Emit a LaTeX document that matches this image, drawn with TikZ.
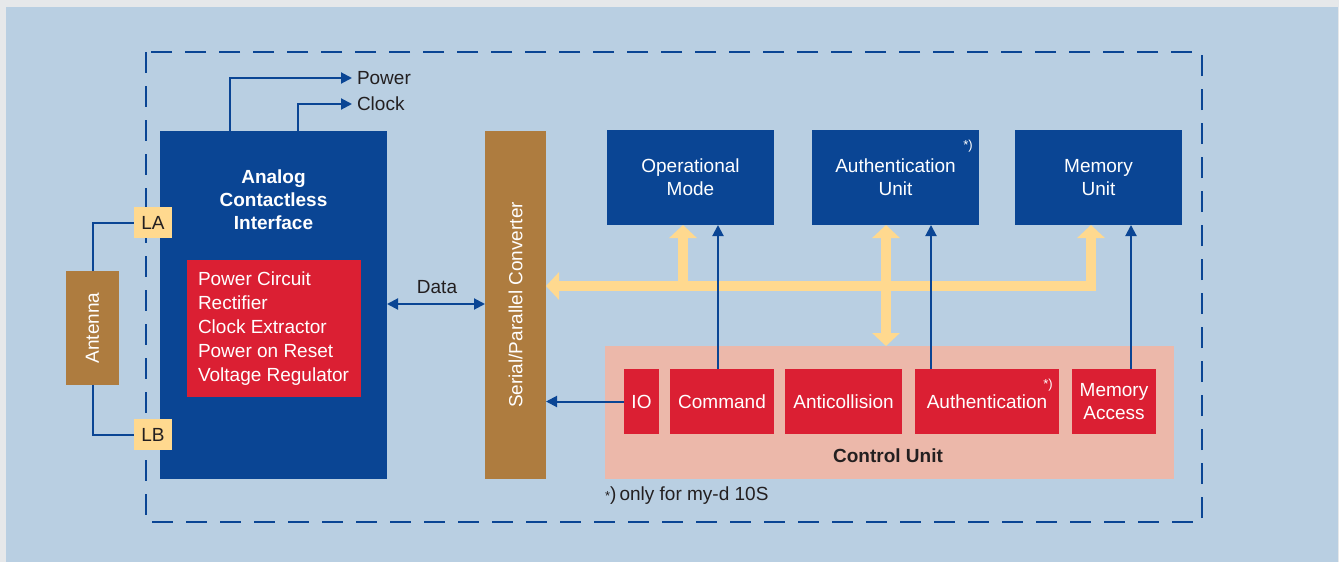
\documentclass[tikz,border=0pt]{standalone}
\usepackage{fontspec}
\setmainfont{Liberation Sans}
\usetikzlibrary{arrows.meta}
\definecolor{greyb}{HTML}{E6E8EA}
\definecolor{bgblue}{HTML}{B9CFE2}
\definecolor{dblue}{HTML}{0A4594}
\definecolor{brown}{HTML}{AE7C3F}
\definecolor{yel}{HTML}{FFD98F}
\definecolor{redb}{HTML}{DB1F33}
\definecolor{pinkb}{HTML}{ECB8AA}
\definecolor{darktext}{HTML}{231F20}
\newcommand{\fsz}{\fontsize{19}{23}\selectfont}
\newcommand{\smallstar}{\fontsize{13}{13}\selectfont}
\begin{document}
\begin{tikzpicture}[x=1pt,y=-1pt,
  every node/.style={inner sep=0pt, outer sep=0pt, font=\fsz, text=darktext},
  box/.style={draw=none, anchor=north west, align=center},
  wh/.style 2 args={minimum width=#1, minimum height=#2},
  bluebox/.style={box, fill=dblue, text=white},
  redbox/.style={box, fill=redb, text=white},
  brownbox/.style={box, fill=brown, text=white},
  yelbox/.style={box, fill=yel, text=darktext},
  pinkbox/.style={box, fill=pinkb},
  wtext/.style={text=white},
  bus/.style={draw=yel, line width=10pt, line join=miter},
  conn/.style={draw=dblue, line width=2pt},
  ytip/.tip={Triangle[length=13pt,width=27pt]},
  btip/.tip={Triangle[length=11pt,width=11pt]}
]
\useasboundingbox (0,0) rectangle (1339,562);
\fill[greyb] (0,0) rectangle (1339,562);
\fill[bgblue] (6,7) rectangle (1338,562);
\draw[dblue, line width=2.2pt, dash pattern=on 21pt off 13pt] (146,52) rectangle (1202,522);

% analog interface
\node[bluebox, wh={227pt}{348pt}] (aci) at (160,131) {};
\node[wtext, font=\fsz\bfseries, align=center] (acit) at (273.5,200) {Analog\\Contactless\\Interface};
\node[redbox, wh={174pt}{137pt}] (pc) at (187,260) {};
\node[wtext, align=left, anchor=west, font=\fontsize{19}{24}\selectfont] (pct) at (198,329) {Power Circuit\\Rectifier\\Clock Extractor\\Power on Reset\\Voltage Regulator};

% antenna
\node[brownbox, wh={53pt}{114pt}] (ant) at (66,271) {};
\node[rotate=90, wtext] (antt) at (ant.center) {Antenna};
\node[yelbox, wh={38pt}{31pt}] (la) at (134,207) {LA};
\node[yelbox, wh={38pt}{31pt}] (lb) at (134,419) {LB};
\draw[conn] (ant.north) |- (la.west);
\draw[conn] (ant.south) |- (lb.west);

% power / clock
\coordinate (pw) at (352,78);
\coordinate (ck) at (352,104);
\draw[conn, -btip] (aci.north -| 230,0) |- (pw);
\draw[conn, -btip] (aci.north -| 298,0) |- (ck);
\node[anchor=west] (pwt) at (357,78) {Power};
\node[anchor=west] (ckt) at (357,104) {Clock};

% serial/parallel converter
\node[brownbox, wh={61pt}{348pt}] (spc) at (485,131) {};
\node[rotate=90, wtext] (spct) at (spc.center) {Serial/Parallel Converter};
\draw[conn, btip-btip] (aci.east |- 0,304) -- (spc.west |- 0,304);
\node (datat) at (437,287) {Data};

% top units
\node[bluebox, wh={167pt}{95pt}] (om) at (607,130) {Operational\\Mode};
\node[bluebox, wh={167pt}{95pt}] (au) at (812,130) {Authentication\\Unit};
\node[bluebox, wh={167pt}{95pt}] (mu) at (1015,130) {Memory\\Unit};
\node[wtext, font=\smallstar] (aust) at (968,146) {*)};

% control unit
\node[pinkbox, wh={569pt}{133pt}] (cu) at (605,346) {};
\node[font=\fsz\bfseries] (cut) at (888,456) {Control Unit};
\node[redbox, wh={35pt}{65pt}] (io) at (624,369) {IO};
\node[redbox, wh={104pt}{65pt}] (cmd) at (670,369) {Command};
\node[redbox, wh={117pt}{65pt}] (anti) at (785,369) {Anticollision};
\node[redbox, wh={144pt}{65pt}] (auth) at (915,369) {Authentication};
\node[wtext, font=\smallstar] (authst) at (1048,385) {*)};
\node[redbox, wh={84pt}{65pt}] (ma) at (1072,369) {Memory\\Access};

% bus
\draw[bus, ytip-ytip] (spc.east |- 0,286) -| (mu.south -| 1091,0);
\draw[bus, -ytip] (683,286) -- (om.south -| 683,0);
\draw[bus, ytip-ytip] (au.south -| 886,0) -- (cu.north -| 886,0);

% control lines
\draw[conn, -btip] (cmd.north -| 718,0) -- (om.south -| 718,0);
\draw[conn, -btip] (auth.north -| 931,0) -- (au.south -| 931,0);
\draw[conn, -btip] (ma.north -| 1131,0) -- (mu.south -| 1131,0);
\draw[conn, -btip] (io.west) -- (spc.east |- io.west);

% note
\node[anchor=west] (note) at (605,496) {{\smallstar *})\,only for my-d 10S};
\end{tikzpicture}
\end{document}
